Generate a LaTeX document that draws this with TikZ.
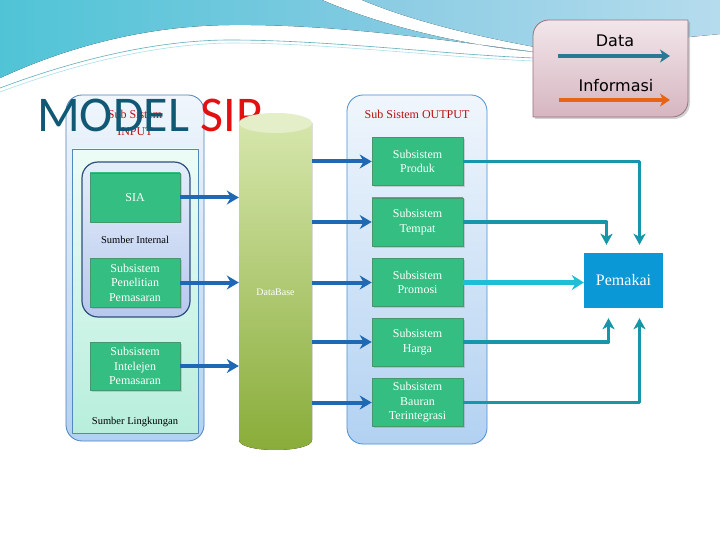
\documentclass[tikz,border=0pt]{standalone}
\usepackage{fontspec}
\setmainfont{Liberation Serif}
\newfontfamily\titlefont{Carlito}
\newfontfamily\legendfont{DejaVu Sans}
\usetikzlibrary{arrows.meta,shadows}
\definecolor{wavecyan}{RGB}{80,196,214}
\definecolor{waveblue}{RGB}{150,205,230}
\definecolor{titleblue}{RGB}{16,88,116}
\definecolor{sipred}{RGB}{226,16,16}
\definecolor{labelred}{RGB}{184,16,16}
\definecolor{arrowblue}{RGB}{30,104,180}
\definecolor{outcyan}{RGB}{30,190,214}
\definecolor{outteal}{RGB}{22,150,168}
\definecolor{subgreen}{RGB}{52,190,130}
\definecolor{sublight}{RGB}{122,226,182}
\definecolor{subedge}{RGB}{70,150,110}
\definecolor{dbtop}{RGB}{214,230,172}
\definecolor{dbbot}{RGB}{136,172,56}
\definecolor{dbcap}{RGB}{228,238,200}
\definecolor{usercolor}{RGB}{10,152,214}
\definecolor{legedge}{RGB}{150,110,125}
\definecolor{legtop}{RGB}{242,230,234}
\definecolor{legbot}{RGB}{214,182,192}
\definecolor{dataline}{RGB}{40,120,150}
\definecolor{infoline}{RGB}{230,100,20}
\definecolor{paneltop}{RGB}{240,246,252}
\definecolor{panelbot}{RGB}{178,209,242}
\definecolor{paneledge}{RGB}{80,130,190}
\definecolor{minttop}{RGB}{236,252,246}
\definecolor{mintbot}{RGB}{184,238,220}
\definecolor{mintedge}{RGB}{80,136,192}
\definecolor{intedge}{RGB}{47,79,127}
\definecolor{inttop}{RGB}{228,238,250}
\definecolor{intbot}{RGB}{184,200,238}
\definecolor{outedge}{RGB}{74,144,208}
\tikzset{
  subbox/.style={draw=subedge,line width=0.6pt,
    top color=subgreen,middle color=sublight,bottom color=subgreen,
    drop shadow={opacity=0.3,shadow xshift=1.5pt,shadow yshift=-1.5pt},
    text=white,align=center,minimum width=91pt,minimum height=48pt,inner sep=1pt,
    font=\fontsize{12}{14.5}\selectfont},
  framebox/.style={rounded corners=16pt,line width=0.8pt},
  inarrow/.style={draw=arrowblue,line width=4pt,-{Stealth[length=12pt,width=14pt,inset=4pt]}},
  outarrow/.style={draw=outcyan,line width=5pt,-{Stealth[length=12pt,width=15pt,inset=4pt]}},
  bentarrow/.style={draw=outteal,line width=3.5pt,-{Stealth[length=11pt,width=12pt,inset=3pt]}}
}
\begin{document}
\begin{tikzpicture}[x=1pt,y=-1pt,line join=round]
\useasboundingbox (0,0) rectangle (720,540);
\fill[white] (0,0) rectangle (720,540);
\fill[left color=wavecyan,right color=waveblue] (0,0) -- (322,0) .. controls (380,25) and (460,45) .. (535,52)
  .. controls (430,38) and (330,24) .. (230,25) .. controls (130,26) and (50,55) .. (0,78) -- cycle;
\fill[left color=waveblue!80!wavecyan,right color=waveblue!70] (362,0) -- (720,0) -- (720,34)
  .. controls (660,40) and (590,46) .. (535,47) .. controls (470,35) and (410,20) .. cycle;
\draw[wavecyan!70!gray,line width=0.6pt] (0,88) .. controls (80,58) and (160,40) .. (230,40) .. controls (330,40) and (450,55) .. (535,58);
\draw[wavecyan!50,line width=0.6pt] (0,92) .. controls (80,62) and (160,44) .. (230,43) .. controls (330,43) and (450,58) .. (535,61);

\draw[draw=legedge,line width=0.8pt,top color=legtop,bottom color=legbot,
  drop shadow={opacity=0.35,shadow xshift=2pt,shadow yshift=-2pt}]
  (533,117) -- (533,36) .. controls (533,27) and (540,20) .. (549,20) -- (688,20) -- (688,101)
  .. controls (688,110) and (681,117) .. (672,117) -- cycle;
\node[font=\legendfont\fontsize{16}{18}\selectfont] (data) at (615,41) {Data};
\node[font=\legendfont\fontsize{16}{18}\selectfont] (info) at (616,86) {Informasi};
\coordinate (d1) at (558,56); \coordinate (d2) at (670,56);
\coordinate (i1) at (559,100); \coordinate (i2) at (670,100);
\draw[draw=dataline,line width=4pt,-{Stealth[length=10pt,width=13pt,inset=3pt]}] (d1) -- (d2);
\draw[draw=infoline,line width=4pt,-{Stealth[length=10pt,width=13pt,inset=3pt]}] (i1) -- (i2);

\draw[framebox,draw=paneledge,top color=paneltop,bottom color=panelbot] (66,95) rectangle (204,441);
\draw[draw=mintedge,line width=0.7pt,top color=minttop,bottom color=mintbot] (72,149) rectangle (198,433);
\draw[framebox,draw=intedge,line width=1.2pt,top color=inttop,bottom color=intbot] (82,162) rectangle (190,317);
\node[text=labelred,align=center,font=\fontsize{12}{17}\selectfont] (inlabel) at (135,122.5) {Sub Sistem\\INPUT};
\node[font=\fontsize{10.5}{12}\selectfont] (internal) at (135,240) {Sumber Internal};
\node[font=\fontsize{10.5}{12}\selectfont] (lingkungan) at (135,422) {Sumber Lingkungan};
\node[subbox,minimum width=90pt,minimum height=49pt] (sia) at (135,197.5) {SIA};
\node[subbox,minimum width=90pt,minimum height=49pt] (riset) at (135,282.5) {Subsistem\\Penelitian\\Pemasaran};
\node[subbox,minimum width=90pt,minimum height=48pt] (intel) at (135,366) {Subsistem\\Intelejen\\Pemasaran};

\node[anchor=base west,inner sep=0pt,text=titleblue,font=\titlefont\fontsize{50}{50}\selectfont] (title) at (37,132) {MODEL \textcolor{sipred}{SIP}};

\node[minimum width=73pt,minimum height=337pt,inner sep=0pt] (db) at (275.5,281.5) {};
\fill[top color=dbtop,bottom color=dbbot] (239,123) -- (239,440) .. controls (239,453.3) and (312,453.3) .. (312,440) -- (312,123) -- cycle;
\fill[dbcap] (275.5,123) ellipse[x radius=36.5,y radius=10];
\node[text=white,font=\fontsize{10}{12}\selectfont] (dblabel) at (275.5,292) {DataBase};

\draw[framebox,draw=outedge,top color=paneltop,bottom color=panelbot] (347,95) rectangle (487,444);
\node[text=labelred,font=\fontsize{12}{14}\selectfont] (outlabel) at (417,114) {Sub Sistem OUTPUT};
\node[subbox] (produk) at (417.5,161.5) {Subsistem\\Produk};
\node[subbox] (tempat) at (417.5,222) {Subsistem\\Tempat};
\node[subbox] (promosi) at (417.5,282.5) {Subsistem\\Promosi};
\node[subbox] (harga) at (417.5,342) {Subsistem\\Harga};
\node[subbox] (bauran) at (417.5,402.5) {Subsistem\\Bauran\\Terintegrasi};

\node[fill=usercolor,text=white,minimum width=79pt,minimum height=55pt,font=\fontsize{16}{18}\selectfont] (user) at (623.5,280.5) {Pemakai};

\draw[inarrow] (sia.east) -- (sia.east -| db.west);
\draw[inarrow] (riset.east) -- (riset.east -| db.west);
\draw[inarrow] (intel.east) -- (intel.east -| db.west);
\draw[inarrow] (produk.west -| db.east) -- (produk.west);
\draw[inarrow] (tempat.west -| db.east) -- (tempat.west);
\draw[inarrow] (promosi.west -| db.east) -- (promosi.west);
\draw[inarrow] (harga.west -| db.east) -- (harga.west);
\draw[inarrow] (bauran.west -| db.east) -- (bauran.west);

\draw[outarrow] (promosi.east) -- (promosi.east -| user.west);
\draw[bentarrow,shorten >=8pt] (produk.east) -| ([xshift=16pt]user.north);
\draw[bentarrow,shorten >=8pt] (tempat.east) -| ([xshift=-17pt]user.north);
\draw[bentarrow,shorten >=10pt] (harga.east) -| ([xshift=-15pt]user.south);
\draw[bentarrow,shorten >=10pt] (bauran.east) -| ([xshift=16pt]user.south);
\end{tikzpicture}
\end{document}
